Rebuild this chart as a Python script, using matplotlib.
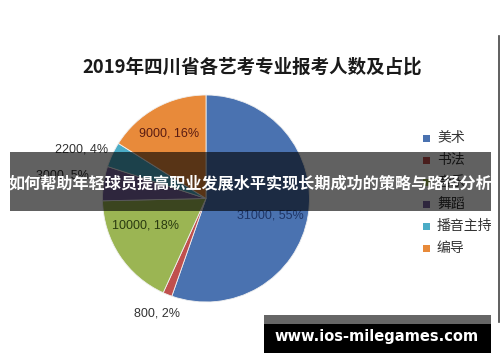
import matplotlib
matplotlib.use("Agg")
import matplotlib.pyplot as plt
from matplotlib.patches import Rectangle

plt.rcParams['font.family'] = ['Noto Sans CJK SC', 'DejaVu Sans']

# ---- data ----
categories = ['美术', '书法', '音乐', '舞蹈', '播音主持', '编导']
values = [31000, 800, 10000, 3000, 2200, 9000]
percents = [55, 2, 18, 5, 4, 16]
colors = ['#4a72b0', '#c0504d', '#9bb553', '#7a64a0', '#4bacc6', '#e88a3a']
label_colors = ['#1f3566', '#333333', '#2a3a10', '#333333', '#333333', '#5a1c12']
title = '2019年四川省各艺考专业报考人数及占比'
banner = '如何帮助年轻球员提高职业发展水平实现长期成功的策略与路径分析'
watermark = 'www.ios-milegames.com'

W, H = 500, 362
fig = plt.figure(figsize=(W / 100, H / 100), dpi=100)
fig.patch.set_facecolor('white')

# pie axes: center (206,198.5), radius 103.5 px
cx, cy, r = 206, 198.5, 103.5
ax = fig.add_axes([(cx - r) / W, (H - cy - r) / H, 2 * r / W, 2 * r / H])
wedges, _ = ax.pie(values, colors=colors, startangle=90, counterclock=False,
                   radius=1, wedgeprops=dict(edgecolor='#f0f0f0', linewidth=0.6))
ax.set_xlim(-1, 1)
ax.set_ylim(-1, 1)
ax.axis('off')

# overlay in pixel coordinates
ov = fig.add_axes([0, 0, 1, 1], zorder=5)
ov.set_xlim(0, W)
ov.set_ylim(H, 0)
ov.axis('off')
ov.patch.set_alpha(0)

ov.text(252, 67, title, ha='center', va='center', fontsize=13.3,
        fontweight='bold', color='#1a1a1a')

# data labels (pixel positions)
label_pos = [(270, 215), (157, 313), (146, 225), (62, 175), (82, 149), (169, 134)]
for (x, y), v, p, c in zip(label_pos, values, percents, label_colors):
    ov.text(x, y, f'{v}, {p}%', ha='center', va='center', fontsize=9,
            family=['Liberation Sans', 'DejaVu Sans'], color=c)

# legend
leg_y0, leg_dy = 138, 22
for i, (cat, col) in enumerate(zip(categories, colors)):
    y = leg_y0 + i * leg_dy
    ov.add_patch(Rectangle((423, y - 3.5), 7, 7, facecolor=col, edgecolor='none'))
    ov.text(437, y, cat, ha='left', va='center', fontsize=10, color='#333333')

# right border line of the original picture
ov.plot([498.5, 498.5], [36, 322], color='#444444', linewidth=1.2)

# banner
ov.add_patch(Rectangle((10, 152), 481, 59, facecolor='black', alpha=0.62,
                       edgecolor='none', zorder=10))
ov.text(250.5, 183, banner, ha='center', va='center', fontsize=11.6,
        fontweight='bold', color='white', zorder=11)

# watermark
ov.add_patch(Rectangle((264, 315), 227, 9, facecolor='#666666', edgecolor='none', zorder=10))
ov.add_patch(Rectangle((264, 324), 227, 29, facecolor='black', edgecolor='none', zorder=10))
ov.text(377, 337, watermark, ha='center', va='center', fontsize=10.5,
        fontweight='bold', family=['DejaVu Sans'], color='white', zorder=11)

fig.savefig('out.png', dpi=100)
